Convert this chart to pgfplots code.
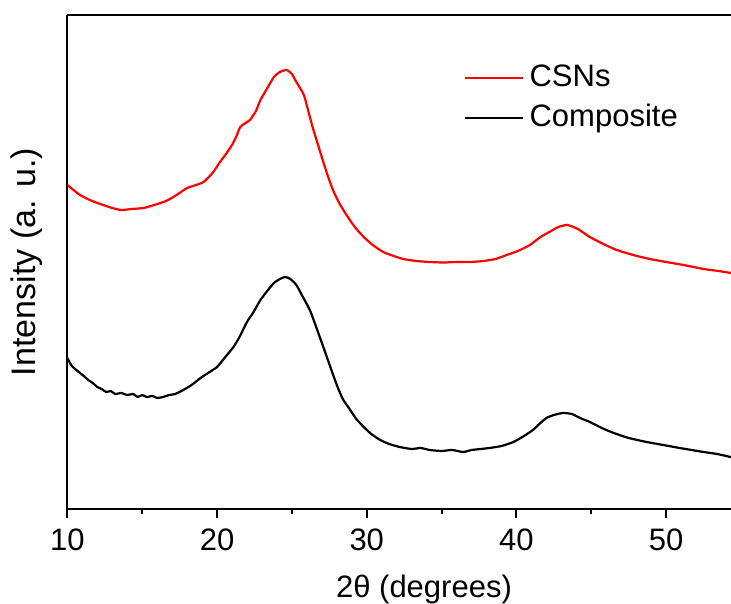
\documentclass[border=0pt]{standalone}
\usepackage{fontspec}
\setmainfont{Liberation Sans}
\usepackage{pgfplots}
\pgfplotsset{compat=1.18}
\begin{document}
\begin{tikzpicture}
\begin{axis}[
  name=ax,
  scale only axis,
  width=356.7pt, height=247pt,
  xmin=10, xmax=57.65, ymin=0, ymax=494,
  axis x line*=box, axis y line*=left,
  axis line style={line width=1pt},
  xtick={10,20,30,40,50}, minor xtick={15,25,35,45,55},
  xtick pos=left, ytick=\empty,
  tick align=outside,
  major tick length=4.5pt, minor tick length=2.6pt,
  every tick/.style={line width=1pt, black},
  /pgf/number format/assume math mode=true,
  ticklabel style={font=\fontsize{15.5}{18}\selectfont},
  xticklabel style={yshift=-2pt},
  xlabel={2θ (degrees)},
  ylabel={Intensity (a. u.)},
  xlabel style={font=\fontsize{15.5}{18}\selectfont, at={(axis description cs:0.5,0)}, anchor=base, yshift=-44pt},
  ylabel style={font=\fontsize{17}{20}\selectfont, inner sep=0pt, at={(axis description cs:-0.0336,0.5)}, anchor=south},
  legend style={draw=none, fill=none, at={(axis cs:36.43,445)}, anchor=north west,
    font=\fontsize{15.5}{18}\selectfont, inner sep=0pt, row sep=6pt, column sep=3pt,
    nodes={inner sep=0pt, text height=11pt, text depth=3pt}},
  legend cell align=left,
  legend image code/.code={\draw[#1] (0pt,0pt) -- (29pt,0pt);},
]
\addplot[red, line width=1.1pt, smooth, tension=0.35] coordinates {
(10.0,324) (10.5,318) (10.85,314) (11.5,309) (12.2,305) (13.0,301) (13.6,299) (14.3,300) (15.1,301) (15.8,304) (16.6,308) (17.3,314) (18.0,321) (18.6,324) (19.1,327) (19.7,336) (20.2,347) (20.6,355) (21.0,364) (21.3,373) (21.55,382) (21.9,386) (22.2,389) (22.6,398) (22.9,409) (23.4,422) (23.8,432) (24.2,437) (24.65,439) (25.0,435) (25.3,427) (25.8,414) (26.2,392) (26.4,381) (26.75,364) (27.1,347) (27.45,331) (27.8,317) (28.2,305) (28.65,294) (29.2,282) (29.8,272) (30.4,264) (31.1,257) (31.8,253) (32.45,250) (33.3,248) (34.2,247) (35.1,246.5) (36.0,247) (36.9,247) (37.8,248) (38.6,250) (39.35,254) (40.1,258) (40.9,264) (41.6,272) (42.2,277) (42.8,282) (43.4,284) (44.1,280) (44.9,272) (45.8,265) (46.7,259) (47.8,254) (48.9,250) (50.0,247) (51.15,244) (52.5,240) (53.5,238) (54.33,236) (54.5,235.7)
};
\addlegendentry{CSNs}
\addplot[black, line width=1.1pt, smooth, tension=0.35] coordinates {
(10.0,151) (10.3,143) (10.6,139) (10.85,136) (11.1,133) (11.4,129) (11.7,126) (12.0,122) (12.3,120) (12.6,117) (12.9,118) (13.2,115) (13.6,116) (14.0,114) (14.4,115) (14.7,112) (15.0,114) (15.3,112) (15.7,113) (16.0,111) (16.4,112) (16.8,114) (17.2,115) (17.75,119) (18.3,124) (18.9,131) (19.4,136) (20.0,142) (20.5,151) (21.1,162) (21.5,172) (22.0,187) (22.4,196) (22.9,209) (23.3,217) (23.8,226) (24.2,230) (24.55,232) (24.9,230) (25.3,224) (25.7,213) (26.2,199) (26.6,183) (27.1,162) (27.5,145) (28.0,124) (28.4,110) (28.9,99) (29.3,90) (29.8,82) (30.3,75) (30.9,69) (31.5,65) (32.2,62) (33.0,60) (33.6,61) (34.2,59) (35.0,58) (35.7,59) (36.45,57) (37.0,59) (37.6,60) (38.2,61) (39.0,63) (39.8,67) (40.5,73) (41.1,79) (41.6,86) (42.0,91) (42.5,94) (43.1,96) (43.7,95) (44.25,91) (44.9,87) (45.7,81) (46.5,76) (47.5,71) (48.7,67) (49.8,64) (50.9,61) (51.7,59) (52.5,57) (53.4,55) (54.3,52) (54.5,51)
};
\addlegendentry{Composite}
\end{axis}
\pgfresetboundingbox
\useasboundingbox ([shift={(-33.65pt,-47pt)}]ax.south west) rectangle ([shift={(331.85pt,254.5pt)}]ax.south west);
\end{tikzpicture}
\end{document}
